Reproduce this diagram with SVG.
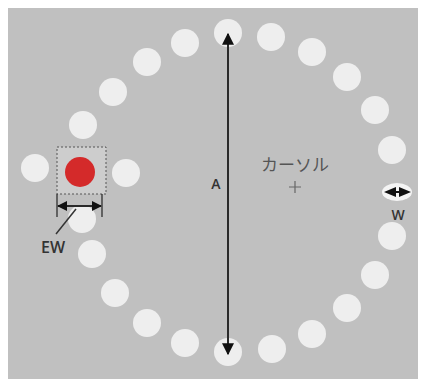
<svg xmlns="http://www.w3.org/2000/svg" width="423" height="381" viewBox="0 0 423 381">
  <style>
    .tgt { fill: #eeeeee; }
    .dim { stroke: #2a2a2a; stroke-width: 2; fill: none; }
    .lbl { font-family: "Open Sans", "Liberation Sans", sans-serif; fill: #333333; font-weight: 600; }
    .tick { stroke: #222222; stroke-width: 1.2; }
  </style>
  <defs>
    <marker id="head" viewBox="0 0 10 10" refX="9" refY="5" markerWidth="6" markerHeight="6" markerUnits="strokeWidth" orient="auto-start-reverse">
      <path d="M0,0 L10,5 L0,10 z" fill="#111111"/>
    </marker>
    <marker id="headSmall" viewBox="0 0 10 10" refX="9" refY="5" markerWidth="6" markerHeight="5" markerUnits="strokeWidth" orient="auto-start-reverse">
      <path d="M0,0 L10,5 L0,10 z" fill="#111111"/>
    </marker>
  </defs>

  <!-- canvas -->
  <rect x="8" y="8" width="410" height="371" fill="#c0c0c0"/>

  <!-- ring of targets -->
  <g id="targets">
    <circle class="tgt" cx="228" cy="33" r="14" fill="#f6f6f6"/>
    <circle class="tgt" cx="271" cy="37" r="14"/>
    <circle class="tgt" cx="312" cy="52" r="14"/>
    <circle class="tgt" cx="347" cy="77" r="14"/>
    <circle class="tgt" cx="375" cy="110" r="14"/>
    <circle class="tgt" cx="392" cy="150" r="14"/>
    <circle class="tgt" cx="392" cy="236" r="14"/>
    <circle class="tgt" cx="375" cy="275" r="14"/>
    <circle class="tgt" cx="347" cy="308" r="14"/>
    <circle class="tgt" cx="312" cy="334" r="14"/>
    <circle class="tgt" cx="272" cy="349" r="14"/>
    <circle class="tgt" cx="228" cy="352" r="14"/>
    <circle class="tgt" cx="185" cy="343" r="14"/>
    <circle class="tgt" cx="147" cy="323" r="14"/>
    <circle class="tgt" cx="115" cy="293" r="14"/>
    <circle class="tgt" cx="92" cy="254" r="14"/>
    <circle class="tgt" cx="82" cy="219" r="14"/>
    <circle class="tgt" cx="126" cy="173" r="14"/>
    <circle class="tgt" cx="35" cy="168" r="14"/>
    <circle class="tgt" cx="83" cy="125" r="14"/>
    <circle class="tgt" cx="113" cy="92" r="14"/>
    <circle class="tgt" cx="147" cy="62" r="14"/>
    <circle class="tgt" cx="185" cy="43" r="14"/>
  </g>

  <!-- highlighted target with its effective-width box -->
  <g id="active-target">
    <rect x="57" y="147" width="49" height="47" fill="#cdcdcd" stroke="#555555" stroke-width="1" stroke-dasharray="2 2"/>
    <circle cx="80" cy="172" r="15" fill="#d42a2a"/>
  </g>

  <!-- cursor -->
  <g id="cursor">
    <text x="295" y="171" font-size="17" text-anchor="middle" fill="#555555" font-family="'Noto Sans CJK JP', sans-serif">カーソル</text>
    <path d="M289,187 H301 M295,181 V193" stroke="#666666" stroke-width="1.2"/>
  </g>

  <!-- dimensions -->
  <g id="connectors">
    <!-- amplitude A -->
    <line class="dim" x1="228" y1="34" x2="228" y2="354" marker-start="url(#head)" marker-end="url(#head)"/>
    <!-- effective width EW -->
    <line class="tick" x1="57" y1="194" x2="57" y2="217"/>
    <line class="tick" x1="102" y1="194" x2="102" y2="217"/>
    <line class="dim" x1="58" y1="206" x2="101" y2="206" marker-start="url(#headSmall)" marker-end="url(#headSmall)"/>
    <line x1="76" y1="209" x2="56" y2="234" stroke="#333333" stroke-width="1.5"/>
    <!-- width W -->
    <ellipse cx="397" cy="192" rx="15" ry="9" fill="#f4f4f4"/>
    <path d="M384,192 L396,187 L396,197 Z M411,192 L399,187 L399,197 Z" fill="#111111"/>
    <line x1="396" y1="192" x2="399" y2="192" stroke="#111111" stroke-width="2"/>
  </g>

  <!-- labels -->
  <g id="labels">
    <text class="lbl" x="216" y="189" font-size="14" text-anchor="middle">A</text>
    <text class="lbl" x="53" y="253" font-size="16" text-anchor="middle">EW</text>
    <text class="lbl" x="398" y="220" font-size="14" text-anchor="middle">W</text>
  </g>
</svg>
